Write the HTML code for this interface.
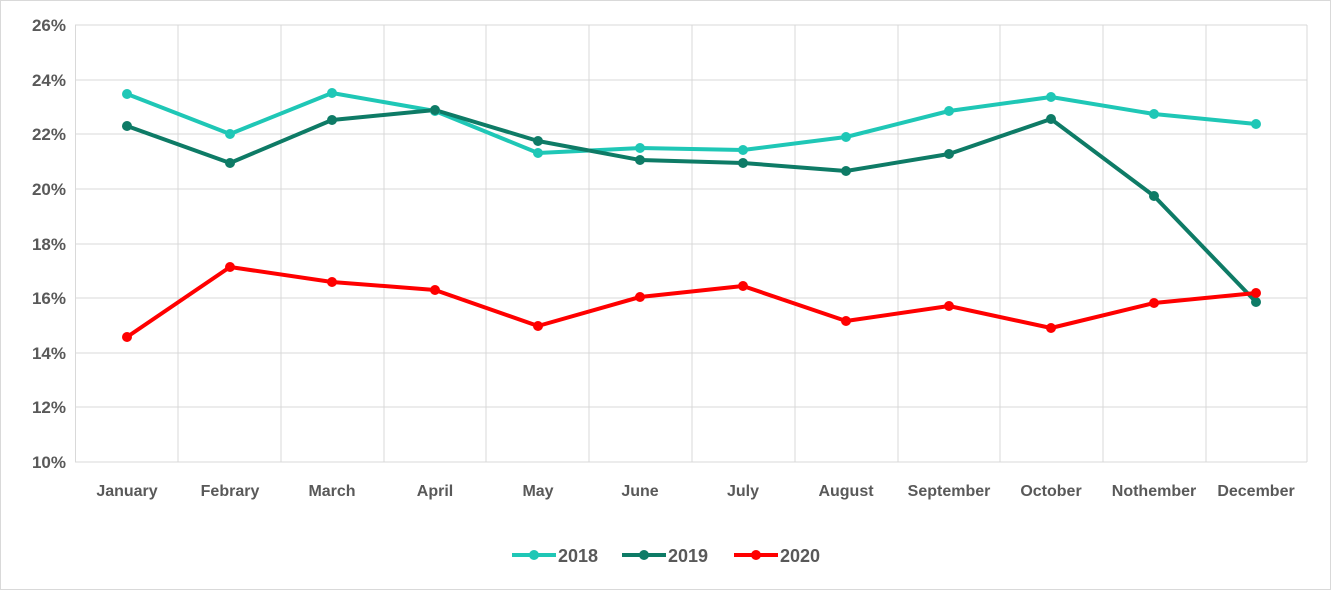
<!DOCTYPE html>
<html><head><meta charset="utf-8"><style>
html,body{margin:0;padding:0;background:#fff;}
svg text{font-family:"Liberation Sans",Arial,sans-serif;font-weight:bold;fill:#595959;}
</style></head><body>
<svg width="1331" height="590" xmlns="http://www.w3.org/2000/svg">
<rect x="0.5" y="0.5" width="1330" height="589" fill="#fff" stroke="#d9d9d9"/>
<g stroke="#d9d9d9" stroke-width="1">
<line x1="75" y1="25" x2="1307" y2="25"/><line x1="75" y1="80" x2="1307" y2="80"/>
<line x1="75" y1="134" x2="1307" y2="134"/><line x1="75" y1="189" x2="1307" y2="189"/>
<line x1="75" y1="244" x2="1307" y2="244"/><line x1="75" y1="298" x2="1307" y2="298"/>
<line x1="75" y1="353" x2="1307" y2="353"/><line x1="75" y1="407" x2="1307" y2="407"/>
<line x1="75" y1="462" x2="1307" y2="462"/>
<line x1="75.5" y1="25" x2="75.5" y2="462"/><line x1="178" y1="25" x2="178" y2="462"/>
<line x1="281" y1="25" x2="281" y2="462"/><line x1="384" y1="25" x2="384" y2="462"/>
<line x1="486" y1="25" x2="486" y2="462"/><line x1="589" y1="25" x2="589" y2="462"/>
<line x1="692" y1="25" x2="692" y2="462"/><line x1="795" y1="25" x2="795" y2="462"/>
<line x1="898" y1="25" x2="898" y2="462"/><line x1="1000" y1="25" x2="1000" y2="462"/>
<line x1="1103" y1="25" x2="1103" y2="462"/><line x1="1206" y1="25" x2="1206" y2="462"/>
<line x1="1307" y1="25" x2="1307" y2="462"/>
</g>
<g font-size="17" text-anchor="end">
<text x="66" y="31">26%</text><text x="66" y="86">24%</text><text x="66" y="140">22%</text>
<text x="66" y="195">20%</text><text x="66" y="250">18%</text><text x="66" y="304">16%</text>
<text x="66" y="359">14%</text><text x="66" y="413">12%</text><text x="66" y="468">10%</text>
</g>
<g font-size="16" text-anchor="middle">
<text x="127" y="496">January</text><text x="230" y="496">Febrary</text><text x="332" y="496">March</text>
<text x="435" y="496">April</text><text x="538" y="496">May</text><text x="640" y="496">June</text>
<text x="743" y="496">July</text><text x="846" y="496">August</text><text x="949" y="496">September</text>
<text x="1051" y="496">October</text><text x="1154" y="496">Nothember</text><text x="1256" y="496">December</text>
</g>
<g fill="none" stroke-width="4" stroke-linejoin="round">
<polyline stroke="#1fc7b6" points="127,94 230,134 332,93 435,111 538,153 640,148 743,150 846,137 949,111 1051,97 1154,114 1256,124"/>
<polyline stroke="#0e7b66" points="127,126 230,163 332,120 435,110 538,141 640,160 743,163 846,171 949,154 1051,119 1154,196 1256,302"/>
<polyline stroke="#ff0000" points="127,337 230,267 332,282 435,290 538,326 640,297 743,286 846,321 949,306 1051,328 1154,303 1256,293"/>
</g>
<g fill="#1fc7b6">
<circle cx="127" cy="94" r="5"/><circle cx="230" cy="134" r="5"/><circle cx="332" cy="93" r="5"/><circle cx="435" cy="111" r="5"/><circle cx="538" cy="153" r="5"/><circle cx="640" cy="148" r="5"/><circle cx="743" cy="150" r="5"/><circle cx="846" cy="137" r="5"/><circle cx="949" cy="111" r="5"/><circle cx="1051" cy="97" r="5"/><circle cx="1154" cy="114" r="5"/><circle cx="1256" cy="124" r="5"/>
</g>
<g fill="#0e7b66">
<circle cx="127" cy="126" r="5"/><circle cx="230" cy="163" r="5"/><circle cx="332" cy="120" r="5"/><circle cx="435" cy="110" r="5"/><circle cx="538" cy="141" r="5"/><circle cx="640" cy="160" r="5"/><circle cx="743" cy="163" r="5"/><circle cx="846" cy="171" r="5"/><circle cx="949" cy="154" r="5"/><circle cx="1051" cy="119" r="5"/><circle cx="1154" cy="196" r="5"/><circle cx="1256" cy="302" r="5"/>
</g>
<g fill="#ff0000">
<circle cx="127" cy="337" r="5"/><circle cx="230" cy="267" r="5"/><circle cx="332" cy="282" r="5"/><circle cx="435" cy="290" r="5"/><circle cx="538" cy="326" r="5"/><circle cx="640" cy="297" r="5"/><circle cx="743" cy="286" r="5"/><circle cx="846" cy="321" r="5"/><circle cx="949" cy="306" r="5"/><circle cx="1051" cy="328" r="5"/><circle cx="1154" cy="303" r="5"/><circle cx="1256" cy="293" r="5"/>
</g>
<g stroke-width="4">
<line x1="512" y1="555" x2="556" y2="555" stroke="#1fc7b6"/><circle cx="534" cy="555" r="5" fill="#1fc7b6"/>
<line x1="622" y1="555" x2="666" y2="555" stroke="#0e7b66"/><circle cx="644" cy="555" r="5" fill="#0e7b66"/>
<line x1="734" y1="555" x2="778" y2="555" stroke="#ff0000"/><circle cx="756" cy="555" r="5" fill="#ff0000"/>
</g>
<g font-size="18"><text x="558" y="562">2018</text><text x="668" y="562">2019</text><text x="780" y="562">2020</text></g>
</svg>
</body></html>
